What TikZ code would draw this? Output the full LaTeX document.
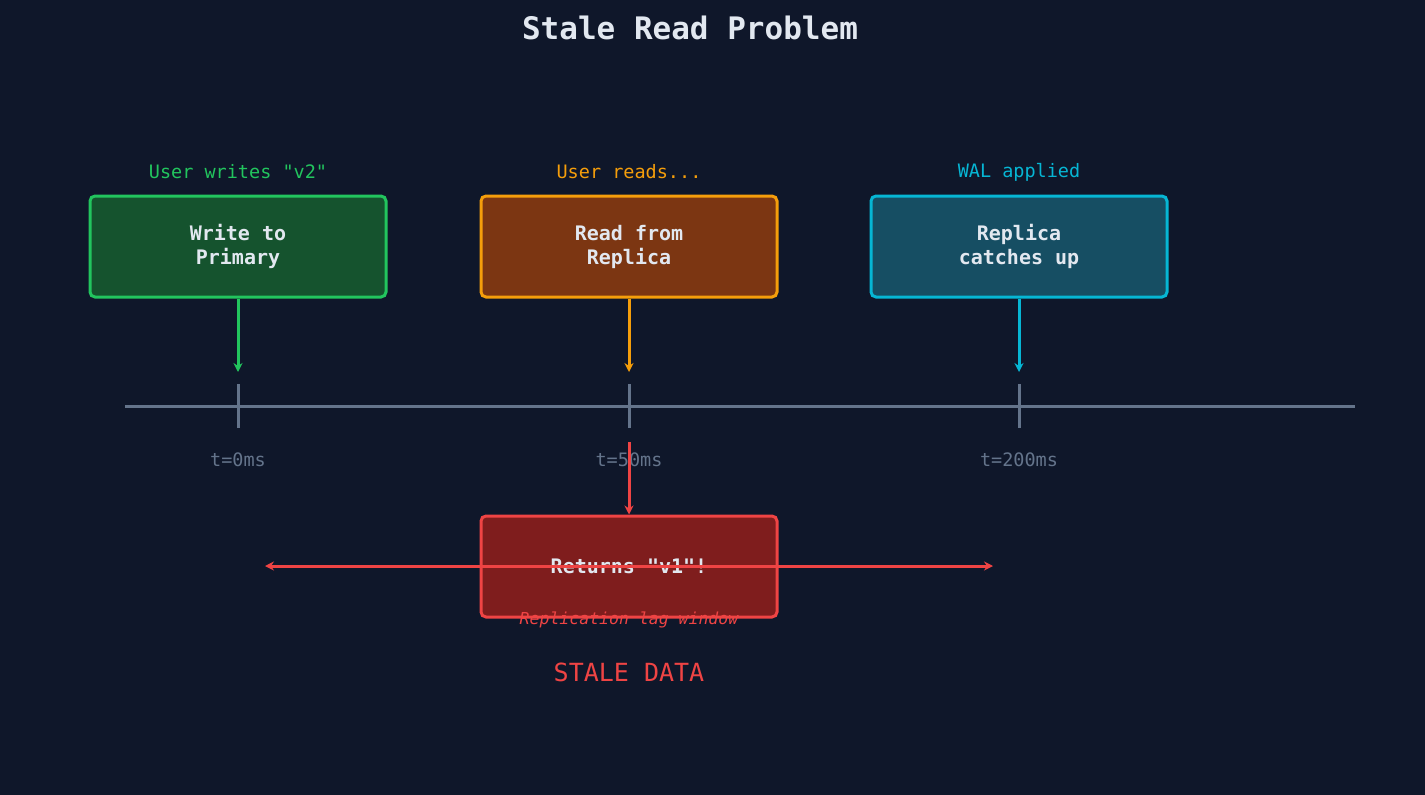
\documentclass[tikz,border=0pt]{standalone}
\usepackage{fontspec}
\setmonofont{DejaVu Sans Mono}
\usetikzlibrary{arrows.meta}
\definecolor{bgc}{HTML}{0F172A}
\definecolor{txt}{HTML}{E2E8F0}
\definecolor{axis}{HTML}{64748B}
\definecolor{gline}{HTML}{22C55E}\definecolor{gfill}{HTML}{15532E}
\definecolor{oline}{HTML}{F59E0B}\definecolor{ofill}{HTML}{7C3612}
\definecolor{cline}{HTML}{06B6D4}\definecolor{cfill}{HTML}{164E63}
\definecolor{rline}{HTML}{EF4444}\definecolor{rfill}{HTML}{7F1D1D}
\tikzset{
  evbox/.style={draw=#1, line width=3pt, rounded corners=5pt, minimum width=296pt,
    minimum height=101pt, align=center, text=txt,
    font=\ttfamily\bfseries\fontsize{20}{24}\selectfont},
  evlabel/.style={font=\ttfamily\fontsize{18.5}{20}\selectfont},
  evarrow/.style={line width=3pt, -{Stealth[length=9pt,width=9pt]}}
}
\begin{document}
\begin{tikzpicture}[x=1pt,y=-1pt]
    \fill[bgc] (0,0) rectangle (1425,795);
    \useasboundingbox (0,0) rectangle (1425,795);

    \node[text=txt, font=\ttfamily\bfseries\fontsize{31}{34}\selectfont] (title) at (690,28) {Stale Read Problem};

    % timeline
    \coordinate (tl0) at (125,406);
    \coordinate (tl1) at (1355,406);
    \draw[axis, line width=3pt] (tl0) -- (tl1);
    \foreach \x/\t in {238/0ms, 629/50ms, 1019/200ms} {
        \draw[axis, line width=3pt] (\x,384) -- (\x,428);
        \node[evlabel, text=axis] at (\x,460) {t=\t};
    }

    % events
    \node[evbox=gline, fill=gfill] (write) at (238,246.5) {Write to\\Primary};
    \node[evbox=oline, fill=ofill] (read) at (629,246.5) {Read from\\Replica};
    \node[evbox=cline, fill=cfill] (catch) at (1019,246.5) {Replica\\catches up};
    \node[evlabel, text=gline] (lwrite) at (238,172) {User writes "v2"};
    \node[evlabel, text=oline] (lread) at (629,172) {User reads...};
    \node[evlabel, text=cline] (lcatch) at (1019,172) {WAL applied};

    \coordinate (awrite) at (238,372);
    \coordinate (aread) at (629,372);
    \coordinate (acatch) at (1019,372);
    \draw[evarrow, gline] (write.south) -- (awrite);
    \draw[evarrow, oline] (read.south) -- (aread);
    \draw[evarrow, cline] (catch.south) -- (acatch);

    % stale result
    \node[evbox=rline, fill=rfill] (ret) at (629,566.5) {Returns "v1"!};
    \coordinate (rstart) at (629,442);
    \draw[evarrow, rline] (rstart) -- (ret.north);

    \coordinate (lagl) at (265,566);
    \coordinate (lagr) at (993,566);
    \draw[rline, line width=3pt, {Stealth[length=9pt,width=9pt]}-{Stealth[length=9pt,width=9pt]}] (lagl) -- (lagr);
    \node[text=rline, font=\ttfamily\itshape\fontsize{16.5}{18}\selectfont] (lag) at (629,620) {Replication lag window};
    \node[text=rline, font=\ttfamily\fontsize{25}{28}\selectfont] (stale) at (629,672) {STALE DATA};
\end{tikzpicture}
\end{document}
